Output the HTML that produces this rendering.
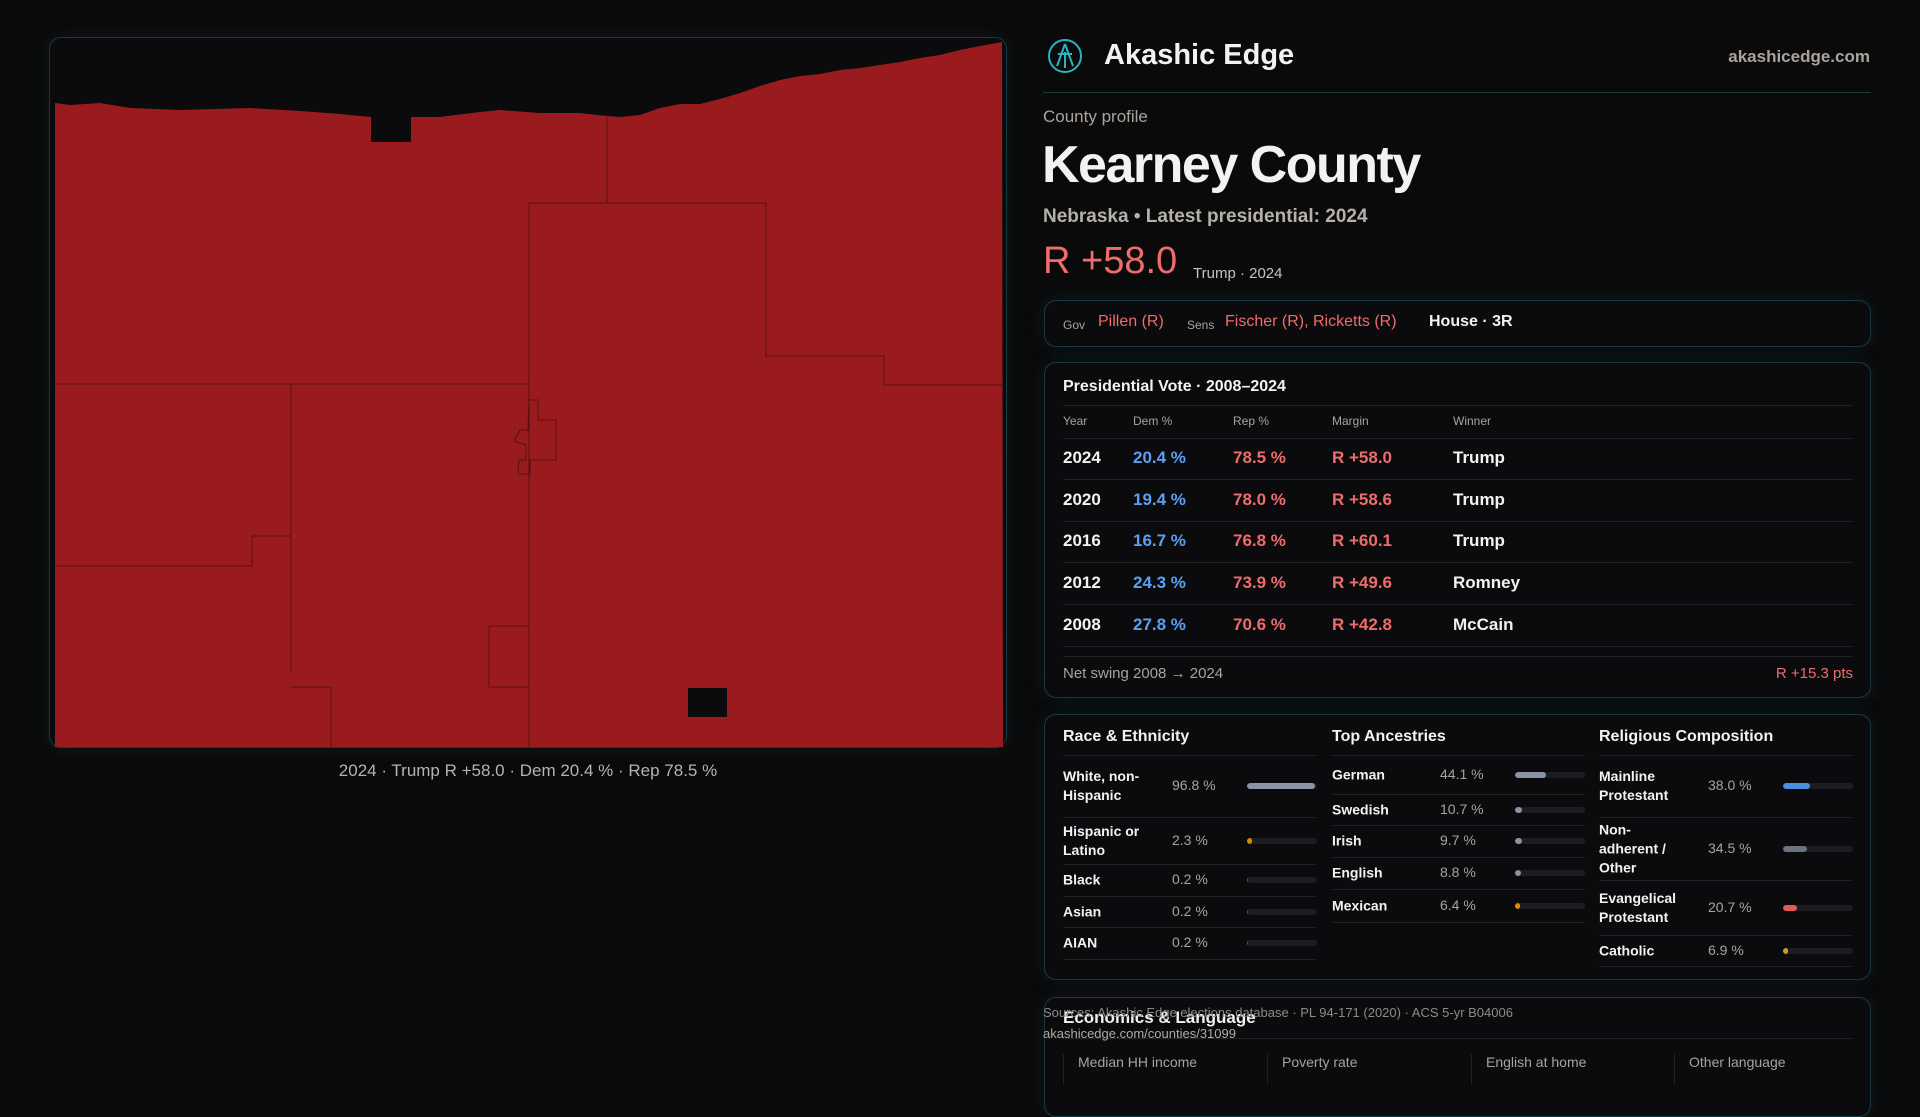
<!DOCTYPE html>
<html><head><meta charset="utf-8">
<style>
*{margin:0;padding:0;box-sizing:border-box}
body{width:1920px;height:1080px;background:#0a0a0b;overflow:hidden;position:relative;font-family:"Liberation Sans",sans-serif;color:#f2f2f2}
.a{position:absolute;white-space:nowrap}
.box{position:absolute;border:1px solid #173a42;border-radius:12px;background:#0b0b0d;box-shadow:0 0 18px rgba(20,70,80,0.25)}
.g{color:#a9a39c}
.r{color:#f06b6b}
.b{color:#5aa0f5}
.hl{position:absolute;height:1px;background:#1f2326}
.bar{position:absolute;height:6px;border-radius:3px;background:#1c1d20;overflow:hidden}
.fill{position:absolute;left:0;top:0;height:6px;border-radius:3px}
</style></head><body>

<div class="box" style="left:49px;top:37px;width:958px;height:711px;border-radius:12px;background:#0b0b0d"></div>
<svg class="a" style="left:0;top:0" width="1020" height="760">
<path fill="#9a1b1e" d="M55,103 L70,105 L100,103 L130,108 L180,110 L250,108 L300,111 L340,114 L371,117 L371,142 L411,142 L411,117 L440,117 L480,112 L500,110 L540,113 L580,113 L607,116 L620,117 L640,115 L660,108 L680,104 L700,104 L720,99 L740,93 L760,86 L780,80 L800,76 L820,74 L840,70 L860,68 L880,65 L900,62 L920,58 L940,55 L960,50 L980,46 L1002,42 L1003,747 L55,747 Z M688,688 L727,688 L727,717 L688,717 Z" fill-rule="evenodd"/>
<g stroke="#5a0f12" stroke-width="1" fill="none">
<path d="M529,203 V747 M55,384 H529 M607,117 V203 M529,203 H766 V356 H884 V385 H1003 M291,384 V672 M252,536 H291 M252,536 V566 H55 M291,687 H331 V747 M489,626 H529 M489,626 V687 H529"/>
<path d="M529,400 H538 V420 H556 V460 H530 V474 H518 L519,460 H526 V445 L514,441 L520,430 H528 Z"/>
</g>
</svg>
<div class="a g" style="left:0;width:1056px;text-align:center;top:761px;font-size:17px;color:#b8b2ab">2024 · Trump R +58.0 · Dem 20.4 % · Rep 78.5 %</div>

<svg class="a" style="left:1047px;top:38px" width="36" height="36"><circle cx="18" cy="18" r="16" fill="none" stroke="#2bb3c0" stroke-width="2"/><path d="M18,6 L10,28 M18,6 L26,28 M11,16 H25 M18,14 V30" stroke="#2bb3c0" stroke-width="2" fill="none"/></svg>
<div class="a" style="left:1104px;top:39px;font-size:29px;font-weight:bold">Akashic Edge</div>
<div class="a g" style="right:50px;top:47px;font-size:17px;font-weight:bold">akashicedge.com</div>
<div class="hl" style="left:1043px;width:828px;top:92px;background:#183a40"></div>

<div class="a g" style="left:1043px;top:107px;font-size:17px">County profile</div>
<div class="a" style="left:1042px;top:135px;font-size:52px;font-weight:bold;letter-spacing:-1.5px">Kearney County</div>
<div class="a g" style="left:1043px;top:206px;font-size:19px;font-weight:bold;color:#b5b0aa">Nebraska • Latest presidential: 2024</div>
<div class="a r" style="left:1043px;top:240px;font-size:38px">R +58.0</div>
<div class="a g" style="left:1193px;top:265px;font-size:15px;color:#c8c2bb">Trump · 2024</div>

<div class="box" style="left:1044px;top:300px;width:827px;height:47px"></div>
<div class="a g" style="left:1063px;top:318px;font-size:12px">Gov</div>
<div class="a r" style="left:1098px;top:313px;font-size:16px">Pillen (R)</div>
<div class="a g" style="left:1187px;top:318px;font-size:12px">Sens</div>
<div class="a r" style="left:1225px;top:313px;font-size:16px">Fischer (R), Ricketts (R)</div>
<div class="a" style="left:1429px;top:313px;font-size:16px;font-weight:bold">House · 3R</div>

<div class="box" style="left:1044px;top:362px;width:827px;height:336px"></div>
<div class="a" style="left:1063px;top:378px;font-size:16px;font-weight:bold">Presidential Vote · 2008–2024</div>
<div class="hl" style="left:1063px;width:790px;top:405px"></div>
<div id="ptable"></div>
<div class="hl" style="left:1063px;width:790px;top:656px"></div>
<div class="a g" style="left:1063px;top:665px;font-size:15px">Net swing 2008 → 2024</div>
<div class="a r" style="right:67px;top:665px;font-size:15px">R +15.3 pts</div>

<div class="box" style="left:1044px;top:714px;width:827px;height:266px"></div>
<div id="demo"></div>

<div class="box" style="left:1044px;top:997px;width:827px;height:120px"></div>
<div class="a" style="left:1063px;top:1008px;font-size:17px;font-weight:bold">Economics &amp; Language</div>
<div class="hl" style="left:1063px;width:790px;top:1038px"></div>
<div class="a g" style="left:1063px;top:1054px;width:204px;height:30px;border-left:1px solid #222;padding-left:14px;font-size:14px">Median HH income</div>
<div class="a g" style="left:1267px;top:1054px;width:204px;height:30px;border-left:1px solid #222;padding-left:14px;font-size:14px">Poverty rate</div>
<div class="a g" style="left:1471px;top:1054px;width:204px;height:30px;border-left:1px solid #222;padding-left:14px;font-size:14px">English at home</div>
<div class="a g" style="left:1674px;top:1054px;width:190px;height:30px;border-left:1px solid #222;padding-left:14px;font-size:14px">Other language</div>
<div class="a g" style="left:1043px;top:1005px;font-size:13px;color:#8f8a84">Sources: Akashic Edge elections database · PL 94-171 (2020) · ACS 5-yr B04006</div>
<div class="a g" style="left:1043px;top:1026px;font-size:13px;color:#b0aaa3">akashicedge.com/counties/31099</div>

<script>
const years=["2024","2020","2016","2012","2008"];
const demPct=[20.4,19.4,16.7,24.3,27.8];
const repPct=[78.5,78.0,76.8,73.9,70.6];
const margins=[58.0,58.6,60.1,49.6,42.8];
const winners=["Trump","Trump","Trump","Romney","McCain"];
const raceLabels=["White, non-<br>Hispanic","Hispanic or<br>Latino","Black","Asian","AIAN"];
const raceValues=[96.8,2.3,0.2,0.2,0.2];
const ancLabels=["German","Swedish","Irish","English","Mexican"];
const ancValues=[44.1,10.7,9.7,8.8,6.4];
const relLabels=["Mainline<br>Protestant","Non-<br>adherent /<br>Other","Evangelical<br>Protestant","Catholic"];
const relValues=[38.0,34.5,20.7,6.9];

function mk(parent,cls,style,html){const d=document.createElement('div');d.className=cls;d.style.cssText=style;if(html!=null)d.innerHTML=html;parent.appendChild(d);return d;}
const pt=document.getElementById('ptable');
const cols=[1063,1133,1233,1332,1453];
["Year","Dem %","Rep %","Margin","Winner"].forEach((h,i)=>{
  const d=mk(pt,'a g',`left:${cols[i]}px;top:414px;font-size:12px`,h);
  
  
});
const hd=mk(pt,'hl','left:1063px;width:790px;top:438px');


years.forEach((y,i)=>{
  const cy=458+i*41.7;
  const t=cy-10;
  const vals=[[y,''],[demPct[i].toFixed(1)+' %','b'],[repPct[i].toFixed(1)+' %','r'],['R +'+margins[i].toFixed(1),'r'],[winners[i],'']];
  vals.forEach((v,j)=>{
    const d=mk(pt,'a '+v[1],`left:${cols[j]}px;top:${t}px;font-size:17px;font-weight:bold`,v[0]);
    
    
  });
  const l=mk(pt,'hl',`left:1063px;width:790px;top:${cy+21}px`);
  
  
});

const demo=document.getElementById('demo');
function col(x,title,labels,values,colors,rowH,valX,barX){
  const t=mk(demo,'a',`left:${x}px;top:728px;font-size:16px;font-weight:bold`,title);
  
  
  const l0=mk(demo,'hl',`left:${x}px;width:253px;top:755px`);
  
  
  let y=755;
  labels.forEach((lab,i)=>{
    const h=rowH[i];const cy=y+h/2;
    const a=mk(demo,'a',`left:${x}px;top:${cy}px;transform:translateY(-50%);font-size:14px;line-height:19px;font-weight:bold`,lab);
    
    
    const v=mk(demo,'a g',`left:${valX}px;top:${cy-9}px;font-size:14px`,values[i].toFixed(1)+' %');
    
    
    const b=mk(demo,'bar',`left:${barX}px;top:${cy-3}px;width:70px`);
    
    
    const f=mk(b,'fill',`width:${Math.max(values[i]/100*70,values[i]>1?5:0)}px;background:${colors[i]}`);
    
    
    y+=h;
    const l=mk(demo,'hl',`left:${x}px;width:253px;top:${y}px`);
    
    
  });
}
col(1063,"Race &amp; Ethnicity",raceLabels,raceValues,["#8a94a6","#d98a00","#555","#555","#555"],[62,47,32,31,32],1172,1247);
col(1332,"Top Ancestries",ancLabels,ancValues,["#8a94a6","#8a94a6","#8a94a6","#8a94a6","#e08a00"],[39,31,32,32,33],1440,1515);
col(1599,"Religious Composition",relLabels,relValues,["#4a8fe0","#6b7280","#e05a5a","#d4a017"],[62,63,55,31],1708,1783);
</script>
</body></html>
